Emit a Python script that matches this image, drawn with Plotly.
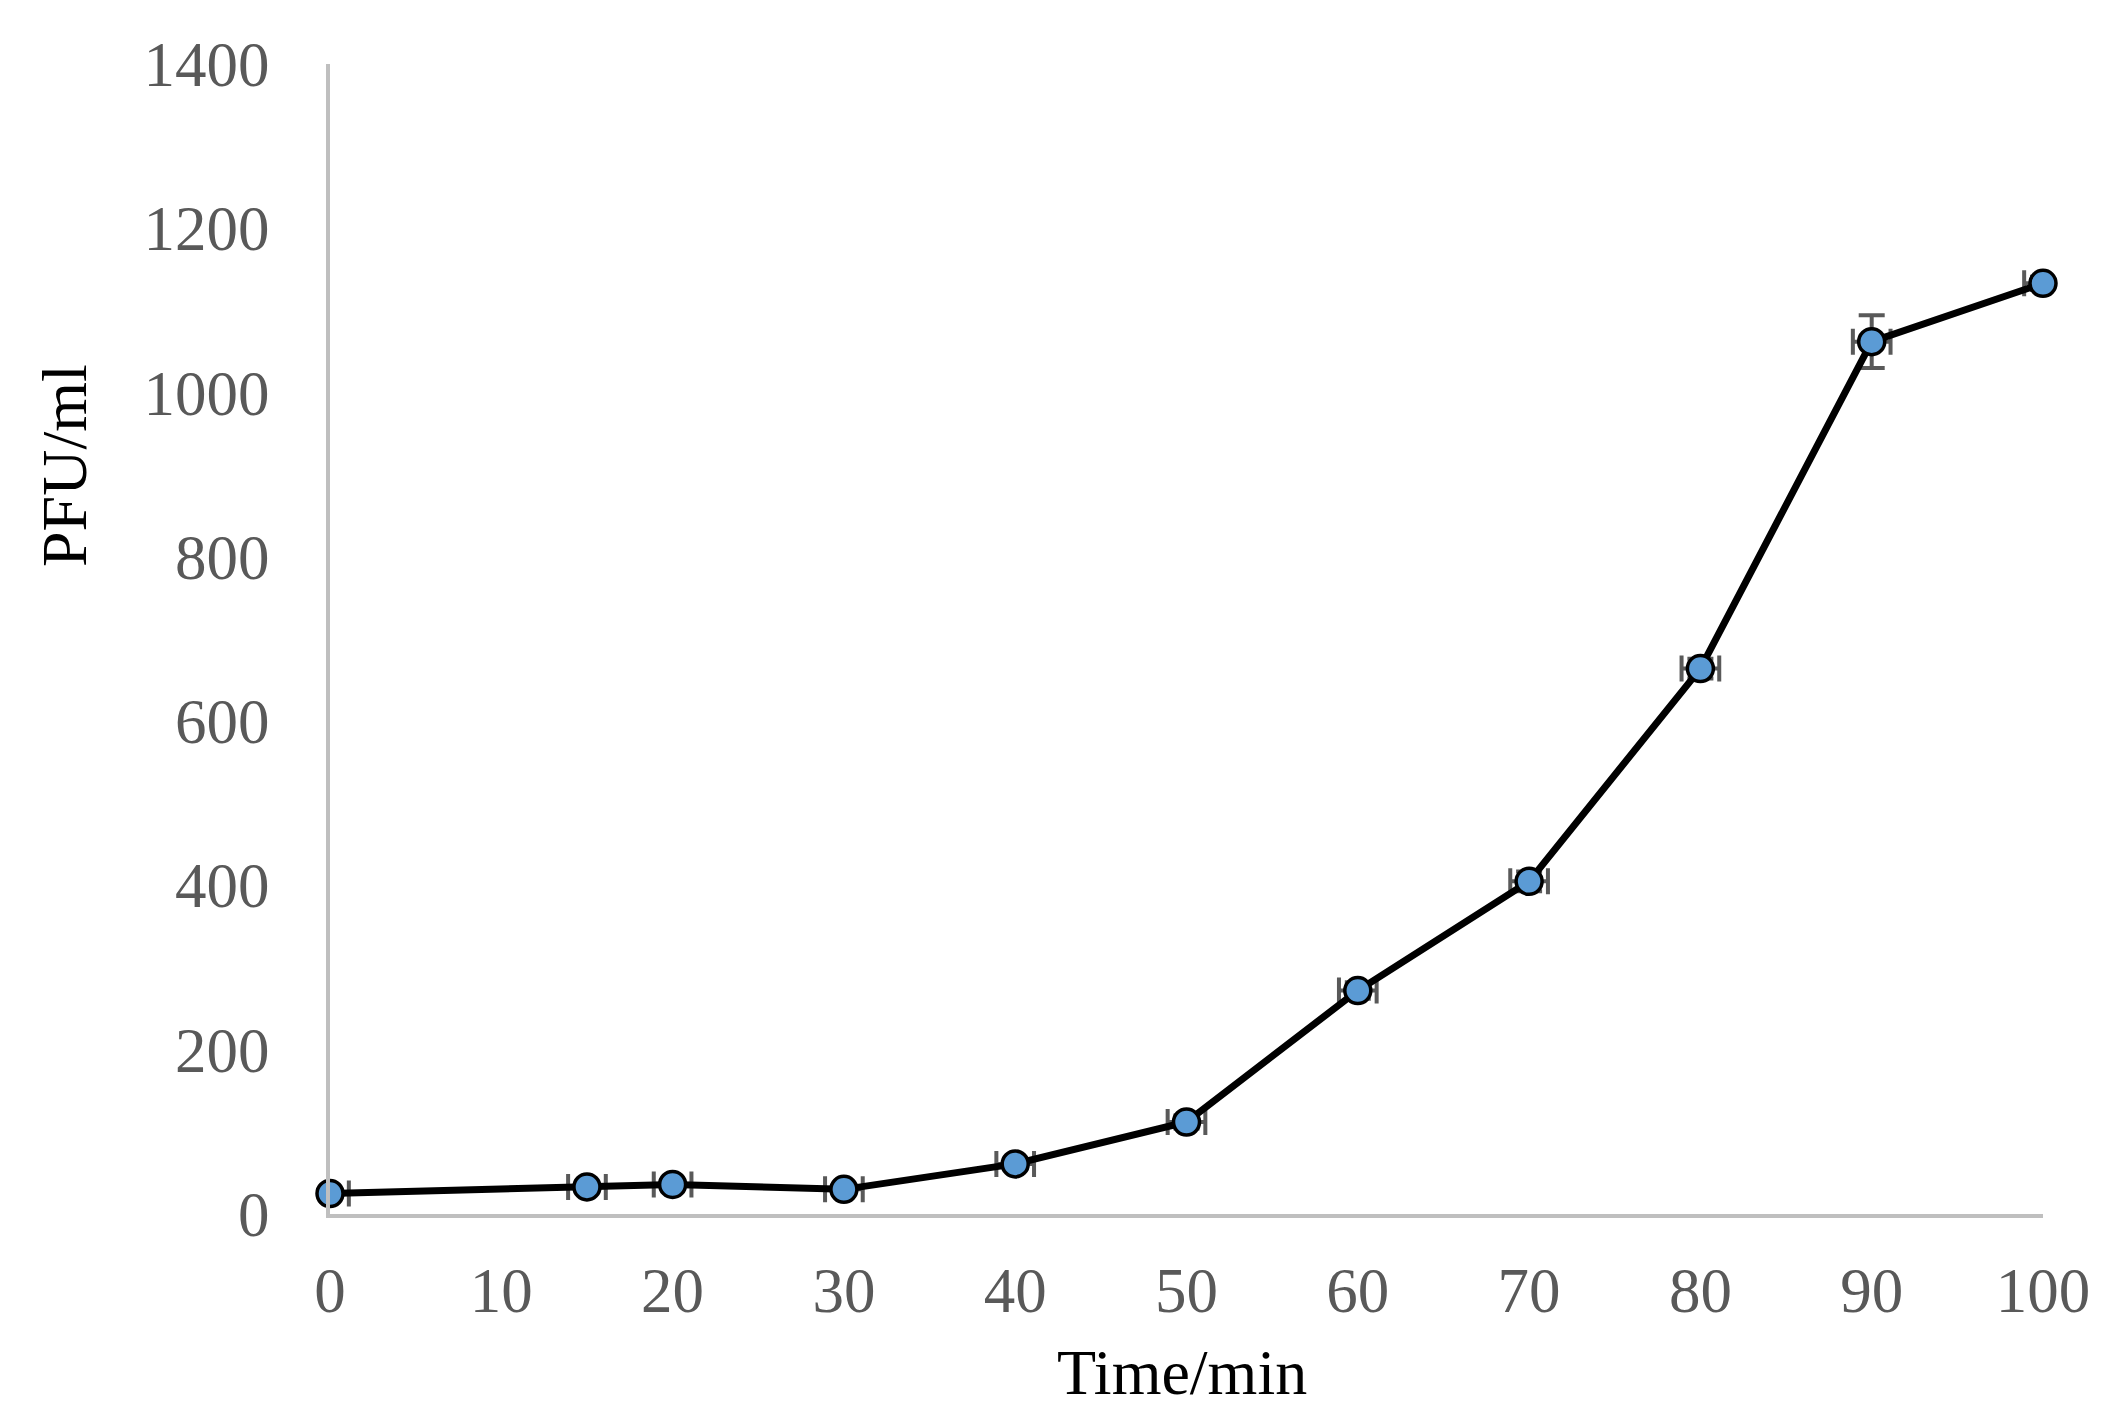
import plotly.graph_objects as go

time_min = [0, 15, 20, 30, 40, 50, 60, 70, 80, 90, 100]
pfu_ml = [25, 33, 36, 30, 61, 112, 272, 405, 664, 1062, 1133]
pfu_err = [3, 5, 5, 4, 6, 8, 10, 12, 12, 32, 8]
time_err = [1.1, 1.1, 1.1, 1.1, 1.1, 1.1, 1.1, 1.1, 1.1, 1.1, 1.1]
x_ticks = [0, 10, 20, 30, 40, 50, 60, 70, 80, 90, 100]
y_ticks = [0, 200, 400, 600, 800, 1000, 1200, 1400]

# page body has an 8px default margin; size the figure so it fits the window
OFF = 8
W, H = 2119 - 2 * OFF, 1427 - 2 * OFF
PL, PT, PR, PB = 330, 64, 2043, 1214  # plot area in window pixels
L, T = PL - OFF, PT - OFF
pw, ph = PR - PL, PB - PT
R, B = W - L - pw, H - T - ph
FONT = "Liberation Serif, Times New Roman, serif"

fig = go.Figure()
fig.add_trace(go.Scatter(
    x=time_min, y=pfu_ml, mode="lines+markers",
    line=dict(color="black", width=7),
    marker=dict(symbol="circle", size=26, color="#5B9BD5",
                line=dict(color="black", width=3.5)),
    error_y=dict(type="data", array=pfu_err, color="#595959", thickness=4, width=13),
    error_x=dict(type="data", array=time_err, color="#595959", thickness=4, width=13),
    cliponaxis=False, showlegend=False,
))

fig.update_layout(
    width=W, height=H,
    margin=dict(l=L, r=R, t=T, b=B),
    paper_bgcolor="white", plot_bgcolor="white",
    font=dict(family=FONT, size=63, color="#595959"),
    xaxis=dict(range=[0, 100], tickvals=x_ticks, ticktext=[str(v) for v in x_ticks],
               showgrid=False, zeroline=False, showline=True,
               linecolor="#BFBFBF", linewidth=4, ticks="", ticklabelstandoff=18,
               tickfont=dict(family=FONT, size=63, color="#595959")),
    yaxis=dict(range=[0, 1400], tickvals=y_ticks, ticktext=[str(v) for v in y_ticks],
               showgrid=False, zeroline=False, showline=True,
               linecolor="#BFBFBF", linewidth=4, ticks="", ticklabelstandoff=44,
               tickfont=dict(family=FONT, size=63, color="#595959")),
    annotations=[
        dict(text="Time/min", xref="paper", yref="paper",
             x=(1182 - PL) / pw, y=(PB - 1372) / ph,
             xanchor="center", yanchor="middle", showarrow=False,
             font=dict(family=FONT, size=64, color="black")),
        dict(text="PFU/ml", xref="paper", yref="paper",
             x=(65 - PL) / pw, y=(PB - 466) / ph, textangle=-90,
             xanchor="center", yanchor="middle", showarrow=False,
             font=dict(family=FONT, size=64, color="black")),
    ],
)

fig.write_html("out.html")
